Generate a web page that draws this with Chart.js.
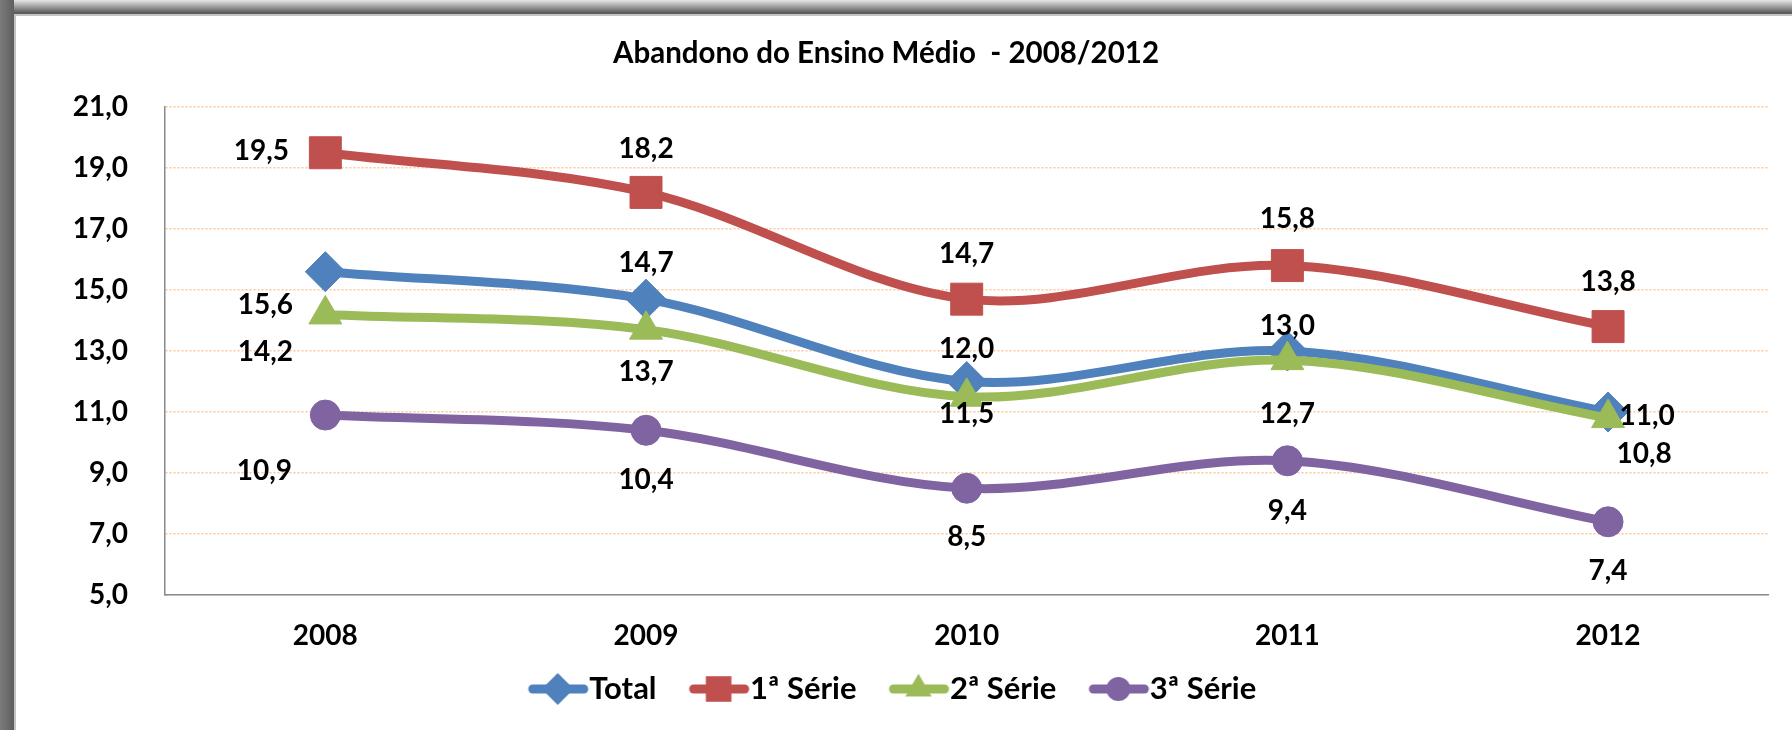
<!DOCTYPE html>
<html>
<head>
<meta charset="utf-8">
<script src="https://cdn.jsdelivr.net/npm/chart.js@4.4.1/dist/chart.umd.min.js"></script>
<style>
  html, body { margin: 0; padding: 0; background: #fff; }
  #chart { display: block; }
</style>
</head>
<body>
<canvas id="chart" width="1792" height="730"></canvas>
<script>
const years = ['2008', '2009', '2010', '2011', '2012'];
const seriesNames = ['Total', '1ª Série', '2ª Série', '3ª Série'];
const total = [15.6, 14.7, 12.0, 13.0, 11.0];
const serie1 = [19.5, 18.2, 14.7, 15.8, 13.8];
const serie2 = [14.2, 13.7, 11.5, 12.7, 10.8];
const serie3 = [10.9, 10.4, 8.5, 9.4, 7.4];
const yMin = 5, yMax = 21, yStep = 2;

// where each value label sits relative to its point (px)
const labelOffsets = [
    [[-60, 33], [0, -36], [0, -33], [0, -25], [39, 4]],
    [[-64, -2], [0, -43], [0, -45], [0, -47], [0, -45]],
    [[-60, 38], [0, 42], [0, 17], [0, 54], [36, 36]],
    [[-61, 56], [0, 50], [0, 49], [0, 50], [0, 49]]
];

const colors = ['#4F81BD', '#C0504D', '#9BBB59', '#8064A2'];
const markers = ['rectRot', 'rect', 'triangle', 'circle'];
const markerSize = [20, 22.6, 19, 15];
const FONT = 'Lato';

const fmt = v => v.toFixed(1).replace('.', ',');

function drawMarker(g, style, r, x, y) {
    g.beginPath();
    if (style === 'rectRot') {
        g.moveTo(x, y - r); g.lineTo(x + r, y); g.lineTo(x, y + r); g.lineTo(x - r, y);
    } else if (style === 'rect') {
        const s = r * Math.SQRT1_2;
        g.rect(x - s, y - s, 2 * s, 2 * s);
    } else if (style === 'triangle') {
        g.moveTo(x, y - r);
        g.lineTo(x + r * 0.866, y + r / 2);
        g.lineTo(x - r * 0.866, y + r / 2);
    } else {
        g.arc(x, y, r, 0, Math.PI * 2);
    }
    g.closePath();
    g.fill();
}

// line + marker swatch, with a blank margin on the left to space the items
function legendIcon(i) {
    const c = document.createElement('canvas');
    c.width = 90; c.height = 44;
    const g = c.getContext('2d');
    g.strokeStyle = colors[i];
    g.fillStyle = colors[i];
    g.lineWidth = 9;
    g.lineCap = 'round';
    g.beginPath(); g.moveTo(33, 22); g.lineTo(84, 22); g.stroke();
    drawMarker(g, markers[i], markerSize[i] * 0.8, 58, 22);
    return c;
}

const frame = {
    id: 'frame',
    beforeDraw(chart) {
        const ctx = chart.ctx;
        const w = chart.width, h = chart.height;
        ctx.save();
        ctx.fillStyle = '#fff';
        ctx.fillRect(0, 0, w, h);
        let gl = ctx.createLinearGradient(0, 0, 15, 0);
        gl.addColorStop(0, '#7c7c7c');
        gl.addColorStop(1, '#5c5c5c');
        ctx.fillStyle = gl;
        ctx.fillRect(0, 0, 14, h);
        let gt = ctx.createLinearGradient(0, 0, 0, 15);
        gt.addColorStop(0, '#e6e6e6');
        gt.addColorStop(0.85, '#5c5c5c');
        gt.addColorStop(1, '#5c5c5c');
        ctx.fillStyle = gt;
        ctx.fillRect(14, 0, w - 14, 14);
        ctx.fillStyle = '#c4c4c4';
        ctx.fillRect(14, 14, 2, h - 14);
        ctx.fillRect(14, 14, w - 14, 2);
        ctx.restore();
    }
};

const pointLabels = {
    id: 'pointLabels',
    afterDatasetsDraw(chart) {
        const ctx = chart.ctx;
        ctx.save();
        ctx.font = 'bold 28px ' + FONT;
        ctx.fillStyle = '#000';
        ctx.textAlign = 'center';
        ctx.textBaseline = 'middle';
        chart.data.datasets.forEach((ds, i) => {
            chart.getDatasetMeta(i).data.forEach((pt, j) => {
                const off = labelOffsets[i][j];
                ctx.fillText(fmt(ds.data[j]), pt.x + off[0], pt.y + off[1]);
            });
        });
        ctx.restore();
    }
};

const seriesData = [total, serie1, serie2, serie3];

new Chart(document.getElementById('chart'), {
    type: 'line',
    data: {
        labels: years,
        datasets: seriesData.map((values, i) => ({
            label: seriesNames[i],
            data: values,
            borderColor: colors[i],
            backgroundColor: colors[i],
            borderWidth: 9,
            tension: 0.33,
            pointStyle: markers[i],
            pointRadius: markerSize[i],
            pointBorderWidth: 1,
            pointBackgroundColor: colors[i],
            pointBorderColor: colors[i],
            order: 4 - i
        }))
    },
    options: {
        responsive: false,
        animation: false,
        devicePixelRatio: 1,
        layout: { padding: { left: 0, right: 20, top: 0, bottom: 15.5 } },
        plugins: {
            title: {
                display: true,
                text: 'Abandono do Ensino Médio  - 2008/2012',
                color: '#000',
                font: { family: FONT, size: 29.5, weight: 'bold' },
                padding: { top: 36, bottom: 35.6 }
            },
            legend: {
                position: 'bottom',
                labels: {
                    usePointStyle: true,
                    pointStyleWidth: 58,
                    padding: 20,
                    color: '#000',
                    font: { family: FONT, size: 31, weight: 'bold' },
                    generateLabels: chart => chart.data.datasets.map((ds, i) => ({
                        text: ds.label,
                        pointStyle: legendIcon(i),
                        fillStyle: colors[i],
                        strokeStyle: colors[i],
                        lineWidth: 0,
                        hidden: false,
                        datasetIndex: i,
                        fontColor: '#000'
                    }))
                }
            },
            tooltip: { enabled: false }
        },
        scales: {
            x: {
                offset: true,
                grid: { display: false, drawTicks: false },
                border: { display: true, color: '#8a8a8a', width: 1.5 },
                ticks: {
                    color: '#000',
                    padding: 24,
                    font: { family: FONT, size: 28, weight: 'bold' }
                },
                afterFit: scale => { scale.height = 58.5; }
            },
            y: {
                min: yMin,
                max: yMax,
                grid: {
                    color: 'rgba(247, 150, 70, 0.55)',
                    lineWidth: 1.5,
                    drawTicks: false
                },
                border: { display: true, color: '#8a8a8a', width: 1.5, dash: [2, 2] },
                ticks: {
                    stepSize: yStep,
                    color: '#000',
                    padding: 37,
                    font: { family: FONT, size: 28, weight: 'bold' },
                    callback: v => fmt(v)
                },
                afterFit: scale => { scale.width = 165; }
            }
        }
    },
    plugins: [frame, pointLabels]
});
</script>
</body>
</html>
